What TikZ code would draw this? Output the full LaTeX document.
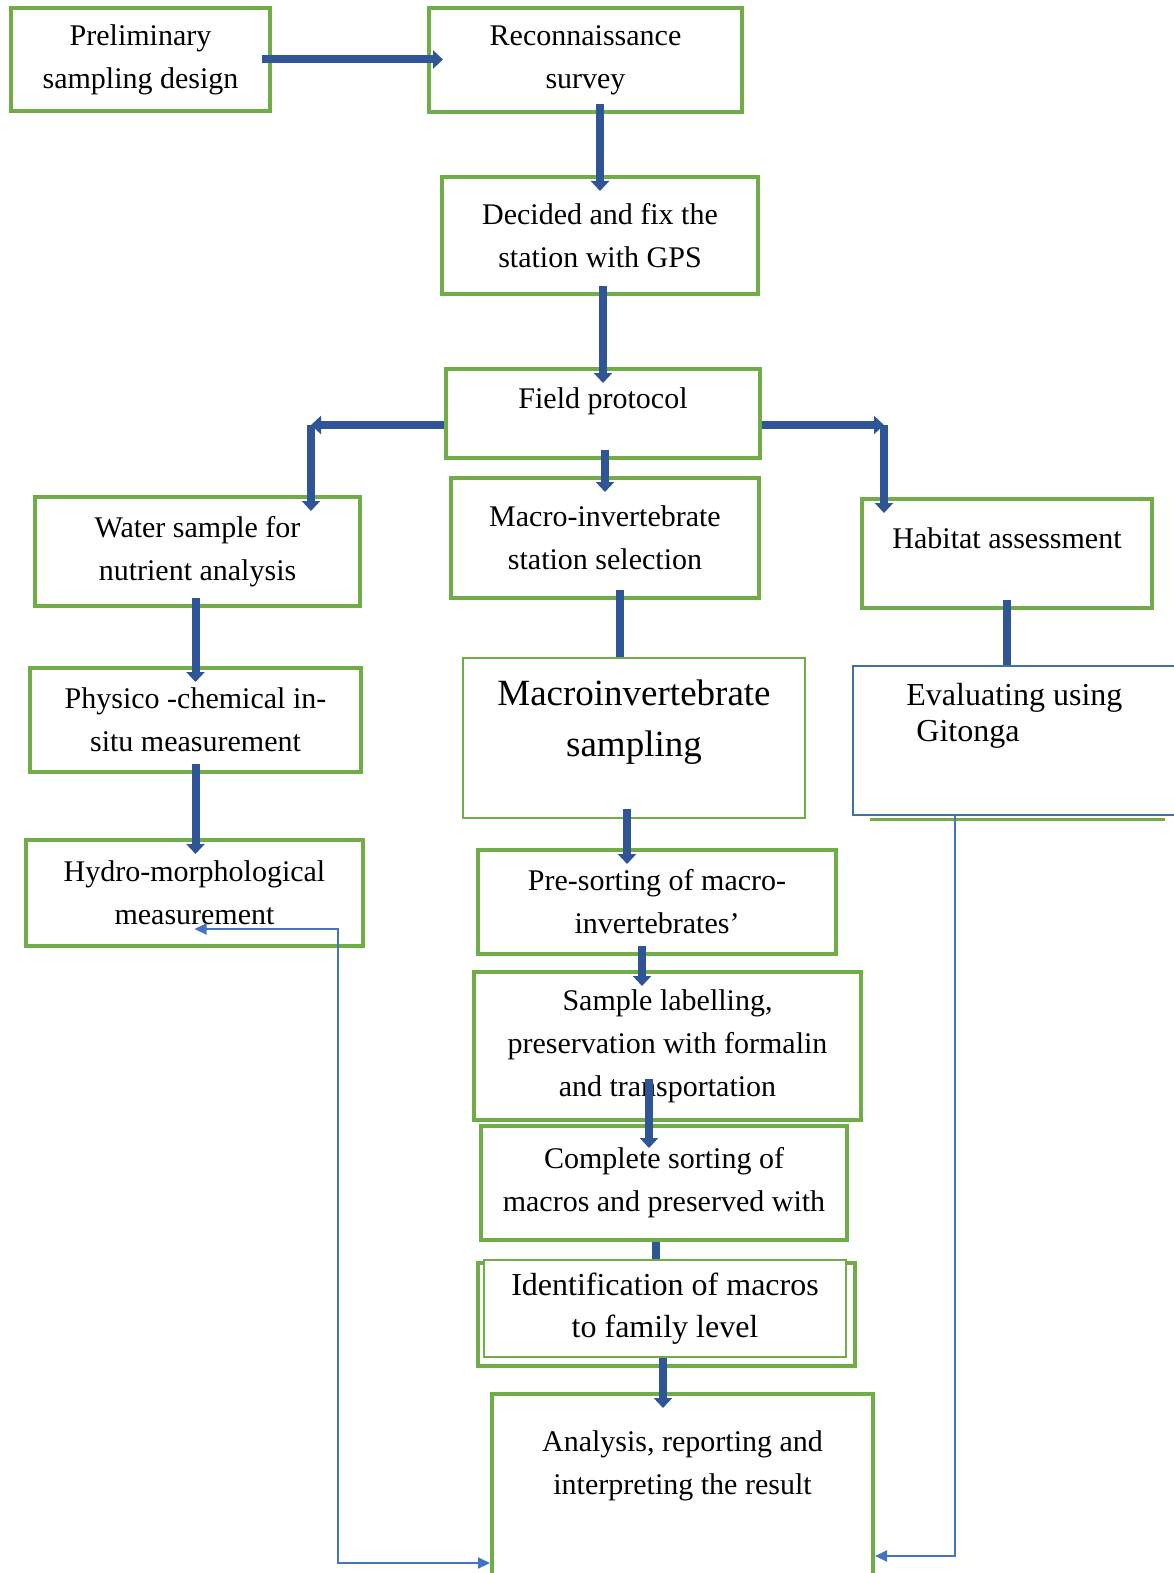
\documentclass[tikz,border=0pt]{standalone}
\usepackage{fontspec}
\setmainfont{Liberation Serif}
\usetikzlibrary{arrows.meta}

\definecolor{boxgreen}{HTML}{70AD47}
\definecolor{flowblue}{HTML}{2F5597}
\definecolor{backblue}{HTML}{4472C4}
\definecolor{evalblue}{HTML}{41719C}

\begin{document}
\begin{tikzpicture}[x=0.5pt, y=-0.5pt, >={Triangle[width=9pt,length=5pt]},
  box/.style={draw=boxgreen, line width=2pt, inner sep=0pt, align=center,
    font=\fontsize{15}{21.5}\selectfont},
  thinbox/.style={box, line width=1pt},
  txt/.style={inner sep=0pt, align=center, font=\fontsize{15}{21.5}\selectfont},
  flow/.style={->, draw=flowblue, line width=4pt, shorten >=-8pt, shorten <=-5pt},
  corner/.style={->, draw=flowblue, line width=4pt},
  link/.style={draw=flowblue, line width=4pt, shorten <=-5pt},
  back/.style={draw=backblue, line width=1pt, >={Triangle[width=5.5pt,length=6pt]}}]
  \useasboundingbox (0,0) rectangle (1173,1573);

  \node[box, minimum width=129.5pt, minimum height=51.5pt] (prelim) at (140.5,59.5)
    {Preliminary\\sampling design};
  \node[box, minimum width=156.5pt, minimum height=52pt] (recon) at (585.5,60)
    {Reconnaissance\\survey};
  \node[box, minimum width=158pt, minimum height=58.5pt] (decided) at (600,235.5)
    {Decided and fix the\\station with GPS};
  \node[box, minimum width=157pt, minimum height=44.5pt] (field) at (603,413.5) {};
  \node[txt] (fieldt) at (603,401) {Field protocol};

  \node[box, minimum width=162.5pt, minimum height=54.5pt] (water) at (197.5,551.5)
    {Water sample for\\nutrient analysis};
  \node[box, minimum width=154pt, minimum height=60pt] (station) at (605,538)
    {Macro-invertebrate\\station selection};
  \node[box, minimum width=145pt, minimum height=54.5pt] (habitat) at (1007,553.5) {};
  \node[txt] (habitatt) at (1007,538) {Habitat assessment};

  \node[box, minimum width=165.5pt, minimum height=52pt] (physico) at (195.5,720)
    {Physico -chemical in-\\situ measurement};
  \node[thinbox, minimum width=171pt, minimum height=80pt] (sampling) at (634,738) {};
  \node[txt, font=\fontsize{18.5}{25.5}\selectfont] (samplingt) at (634,722.5)
    {Macroinvertebrate\\sampling};
  \draw[boxgreen, line width=1.5pt] (870,819) -- (1165,819);
  \node[draw=evalblue, line width=1pt, fill=white, inner sep=0pt,
    minimum width=163.5pt, minimum height=74.5pt] (eval) at (1016.5,740.5) {};
  \node[inner sep=0pt, anchor=north west, align=left,
    font=\fontsize{16}{18}\selectfont] (evalt) at (906,683)
    {Evaluating using\\\hspace*{5pt}Gitonga};

  \node[box, minimum width=168.5pt, minimum height=53pt] (hydro) at (194.5,893)
    {Hydro-morphological\\measurement};
  \node[box, minimum width=179pt, minimum height=52pt] (presort) at (657,902)
    {Pre-sorting of macro-\\invertebrates’};
  \node[box, minimum width=193.5pt, minimum height=74pt] (label) at (667.5,1046)
    {Sample labelling,\\preservation with formalin\\and transportation};
  \node[box, minimum width=183pt, minimum height=57pt] (complete) at (664,1183)
    {Complete sorting of\\macros and preserved with};
  \node[box, minimum width=188.5pt, minimum height=51.5pt] (idento) at (666.5,1314.5) {};
  \node[thinbox, fill=white, minimum width=181pt, minimum height=48.5pt,
    font=\fontsize{16}{21}\selectfont] (ident) at (665,1308.5)
    {Identification of macros\\to family level};
  \node[box, minimum width=190.5pt, minimum height=93pt] (analysis) at (682.5,1487) {};
  \node[txt] (analysist) at (682.5,1465.5)
    {Analysis, reporting and\\interpreting the result};

  \draw[flow] (prelim.east) -- (prelim.east -| recon.west);
  \draw[flow] (recon.south -| decided.north) -- (decided.north);
  \draw[flow] (decided.south -| field.north) -- (field.north);
  \coordinate (fl) at (311,425);
  \coordinate (fr) at (884,425);
  \draw[corner] (field.west |- fl) -- (fl);
  \draw[flow, shorten <=0pt] (fl) -- (fl |- water.north);
  \draw[corner] (field.east |- fr) -- (fr);
  \draw[flow, shorten <=0pt] (fr) -- (fr |- habitat.north);
  \draw[flow] (field.south -| station.north) -- (station.north);
  \draw[flow] (water.south -| physico.north) -- (physico.north);
  \draw[flow] (physico.south) -- (physico.south |- hydro.north);
  \draw[link] ([xshift=7.5pt]station.south) -- ([xshift=7.5pt]station.south |- sampling.north);
  \draw[link] (habitat.south) -- (habitat.south |- eval.north);
  \draw[flow] ([xshift=-3.5pt]sampling.south) -- ([xshift=-3.5pt]sampling.south |- presort.north);
  \draw[flow] ([xshift=-7.5pt]presort.south) -- ([xshift=-7.5pt]presort.south |- label.north);
  \draw[flow, shorten <=-21.5pt, shorten >=-12pt]
    ([xshift=-9.25pt]label.south) -- ([xshift=-9.25pt]label.south |- complete.north);
  \draw[link, shorten <=0pt] ([xshift=-4pt]complete.south) -- ([xshift=-4pt]complete.south |- ident.north);
  \draw[flow] ([xshift=-1.75pt]idento.south) -- ([xshift=-1.75pt]idento.south |- analysis.north);

  \coordinate (hc) at (338,929);
  \coordinate (hb) at (338,1563);
  \draw[back, <->] (hc -| hydro.south) -- (hc) -- (hb) -- (hb -| analysis.west);
  \coordinate (ec) at (955,1556);
  \draw[back, ->] (eval.south -| ec) -- (ec) -- (ec -| analysis.east);
\end{tikzpicture}
\end{document}
